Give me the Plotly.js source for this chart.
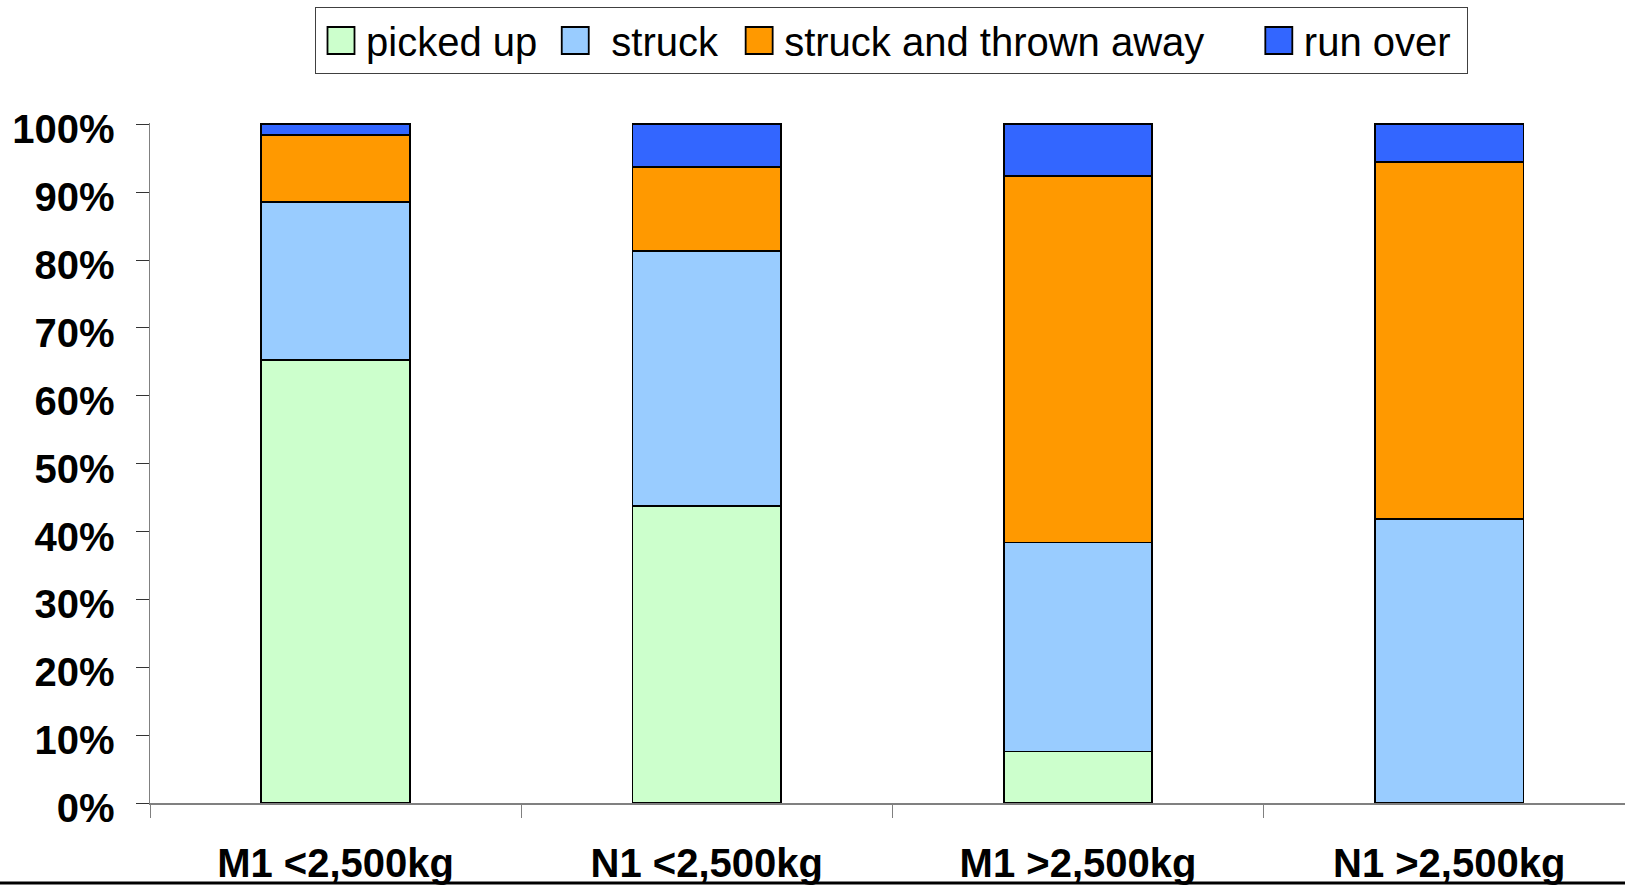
<!DOCTYPE html>
<html>
<head>
<meta charset="utf-8">
<script src="https://cdn.plot.ly/plotly-3.0.1.min.js"></script>
<style>
  html, body { margin: 0; padding: 0; background: #fff; }
  #chart { width: 1625px; height: 887px; }
</style>
</head>
<body>
<div id="chart"></div>
<script>
// ---- data ----
const categories = ['M1 <2,500kg', 'N1 <2,500kg', 'M1 >2,500kg', 'N1 >2,500kg'];
const seriesNames = ['picked up\u2009', '\u00a0struck\u00a0', 'struck and thrown away\u00a0\u00a0\u00a0\u00a0', 'run over\u00a0'];
const pickedUp = [0.653, 0.438, 0.076, 0.000];
const struck   = [0.233, 0.375, 0.308, 0.419];
const thrown   = [0.098, 0.124, 0.540, 0.526];
const runOver  = [0.016, 0.063, 0.076, 0.055];
const yTickVals = [0, 0.1, 0.2, 0.3, 0.4, 0.5, 0.6, 0.7, 0.8, 0.9, 1.0];

const colors = ['#CCFFCC', '#99CCFF', '#FF9900', '#3366FF'];
const values = [pickedUp, struck, thrown, runOver];

const FONT = 'Liberation Sans, Arial, sans-serif';

const traces = values.map((v, i) => ({
  type: 'bar',
  name: seriesNames[i],
  x: categories,
  y: v,
  marker: { color: colors[i], line: { color: '#000000', width: 1.8 } },
  hoverinfo: 'skip'
}));

const layout = {
  width: 1625,
  height: 887,
  barmode: 'stack',
  bargap: 0.6,
  paper_bgcolor: '#ffffff',
  plot_bgcolor: '#ffffff',
  margin: { l: 150, r: 0, t: 123, b: 84, pad: 0 },
  showlegend: true,
  legend: {
    orientation: 'h',
    traceorder: 'normal',
    x: (315 - 150) / 1475,
    xanchor: 'left',
    y: (803 - 7) / 680,
    yanchor: 'top',
    bgcolor: '#ffffff',
    bordercolor: '#404040',
    borderwidth: 1,
    font: { family: FONT, size: 40, color: '#000000' },
    itemwidth: 40,
    itemclick: false
  },
  xaxis: {
    type: 'category',
    range: [-0.5, 3.4736],
    showline: true,
    linecolor: '#808080',
    linewidth: 2,
    ticks: 'outside',
    tickson: 'boundaries',
    ticklen: 13,
    tickcolor: '#808080',
    tickwidth: 1,
    showgrid: false,
    zeroline: false,
    tickfont: { family: FONT, size: 40, color: '#000000', weight: 'bold' },
    ticklabelstandoff: 24,
    fixedrange: true
  },
  yaxis: {
    range: [0, 1.002],
    tickvals: yTickVals,
    tickformat: '.0%',
    showline: true,
    linecolor: '#808080',
    linewidth: 1.5,
    ticks: 'outside',
    ticklen: 13,
    tickcolor: '#333333',
    tickwidth: 1,
    showgrid: false,
    zeroline: false,
    tickfont: { family: FONT, size: 40, color: '#000000', weight: 'bold' },
    ticklabelstandoff: 13,
    ticklabelshift: 5,
    fixedrange: true
  },
  shapes: [{
    type: 'line',
    xref: 'paper', yref: 'paper',
    x0: -150 / 1475, x1: 1,
    y0: (803 - 883) / 680, y1: (803 - 883) / 680,
    line: { color: '#000000', width: 3 },
    layer: 'above'
  }]
};

Plotly.newPlot('chart', traces, layout, { displayModeBar: false, staticPlot: true }).then(() => {
  document.querySelectorAll('.legend .legendpoints path').forEach(p => {
    p.setAttribute('d', 'M13.5,13.5H-13.5V-13.5H13.5Z');
  });
});
</script>
</body>
</html>
